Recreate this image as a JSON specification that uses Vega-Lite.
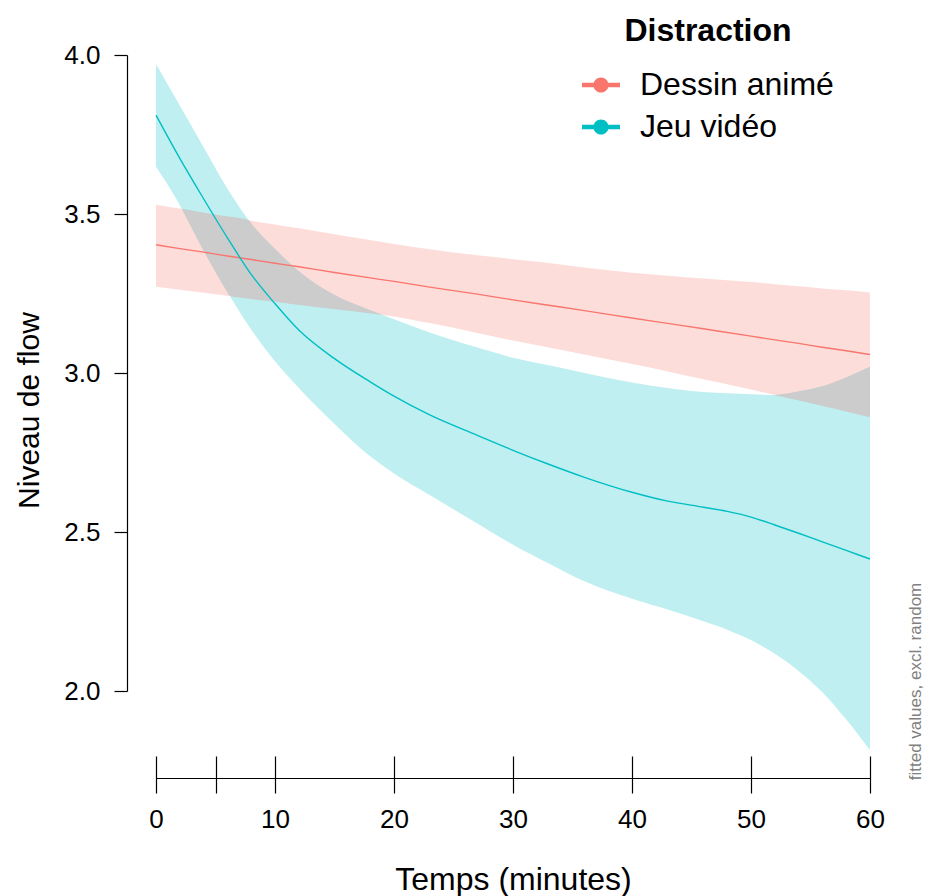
{
  "$schema": "https://vega.github.io/schema/vega-lite/v6.json",
  "width": 714,
  "height": 636,
  "autosize": {"type": "none"},
  "padding": {"left": 156, "top": 55, "right": 57, "bottom": 205},
  "background": "white",
  "config": {
    "view": {"stroke": null},
    "font": "Liberation Sans",
    "axis": {"grid": false, "labelColor": "black", "titleColor": "black", "tickColor": "black", "domainColor": "black", "titleFontWeight": "normal"}
  },
  "datasets": {
    "bands": [
      {"Distraction": "Dessin animé", "t": 0, "fit": 3.403, "lo": 3.271, "hi": 3.529},
      {"Distraction": "Dessin animé", "t": 2, "fit": 3.391, "lo": 3.262, "hi": 3.517},
      {"Distraction": "Dessin animé", "t": 4, "fit": 3.380, "lo": 3.252, "hi": 3.504},
      {"Distraction": "Dessin animé", "t": 6, "fit": 3.368, "lo": 3.243, "hi": 3.492},
      {"Distraction": "Dessin animé", "t": 8, "fit": 3.357, "lo": 3.233, "hi": 3.479},
      {"Distraction": "Dessin animé", "t": 10, "fit": 3.345, "lo": 3.224, "hi": 3.467},
      {"Distraction": "Dessin animé", "t": 12, "fit": 3.334, "lo": 3.215, "hi": 3.455},
      {"Distraction": "Dessin animé", "t": 15, "fit": 3.316, "lo": 3.201, "hi": 3.436},
      {"Distraction": "Dessin animé", "t": 18, "fit": 3.299, "lo": 3.188, "hi": 3.418},
      {"Distraction": "Dessin animé", "t": 20, "fit": 3.288, "lo": 3.178, "hi": 3.406},
      {"Distraction": "Dessin animé", "t": 23, "fit": 3.270, "lo": 3.157, "hi": 3.389},
      {"Distraction": "Dessin animé", "t": 27, "fit": 3.248, "lo": 3.126, "hi": 3.370},
      {"Distraction": "Dessin animé", "t": 30, "fit": 3.230, "lo": 3.102, "hi": 3.358},
      {"Distraction": "Dessin animé", "t": 33, "fit": 3.213, "lo": 3.080, "hi": 3.346},
      {"Distraction": "Dessin animé", "t": 36, "fit": 3.196, "lo": 3.058, "hi": 3.332},
      {"Distraction": "Dessin animé", "t": 40, "fit": 3.173, "lo": 3.028, "hi": 3.315},
      {"Distraction": "Dessin animé", "t": 43, "fit": 3.156, "lo": 3.005, "hi": 3.306},
      {"Distraction": "Dessin animé", "t": 46, "fit": 3.139, "lo": 2.980, "hi": 3.297},
      {"Distraction": "Dessin animé", "t": 50, "fit": 3.116, "lo": 2.948, "hi": 3.286},
      {"Distraction": "Dessin animé", "t": 52, "fit": 3.104, "lo": 2.931, "hi": 3.279},
      {"Distraction": "Dessin animé", "t": 54, "fit": 3.093, "lo": 2.914, "hi": 3.273},
      {"Distraction": "Dessin animé", "t": 56, "fit": 3.081, "lo": 2.897, "hi": 3.266},
      {"Distraction": "Dessin animé", "t": 58, "fit": 3.070, "lo": 2.879, "hi": 3.260},
      {"Distraction": "Dessin animé", "t": 60, "fit": 3.058, "lo": 2.862, "hi": 3.253},
      {"Distraction": "Jeu vidéo", "t": 0, "fit": 3.811, "lo": 3.649, "hi": 3.972},
      {"Distraction": "Jeu vidéo", "t": 2, "fit": 3.675, "lo": 3.528, "hi": 3.841},
      {"Distraction": "Jeu vidéo", "t": 4, "fit": 3.548, "lo": 3.385, "hi": 3.710},
      {"Distraction": "Jeu vidéo", "t": 6, "fit": 3.425, "lo": 3.255, "hi": 3.580},
      {"Distraction": "Jeu vidéo", "t": 8, "fit": 3.310, "lo": 3.137, "hi": 3.470},
      {"Distraction": "Jeu vidéo", "t": 10, "fit": 3.218, "lo": 3.037, "hi": 3.390},
      {"Distraction": "Jeu vidéo", "t": 12, "fit": 3.135, "lo": 2.953, "hi": 3.320},
      {"Distraction": "Jeu vidéo", "t": 15, "fit": 3.045, "lo": 2.840, "hi": 3.245},
      {"Distraction": "Jeu vidéo", "t": 18, "fit": 2.972, "lo": 2.738, "hi": 3.197},
      {"Distraction": "Jeu vidéo", "t": 20, "fit": 2.927, "lo": 2.684, "hi": 3.169},
      {"Distraction": "Jeu vidéo", "t": 23, "fit": 2.868, "lo": 2.616, "hi": 3.127},
      {"Distraction": "Jeu vidéo", "t": 27, "fit": 2.804, "lo": 2.527, "hi": 3.080},
      {"Distraction": "Jeu vidéo", "t": 30, "fit": 2.757, "lo": 2.460, "hi": 3.048},
      {"Distraction": "Jeu vidéo", "t": 33, "fit": 2.713, "lo": 2.401, "hi": 3.024},
      {"Distraction": "Jeu vidéo", "t": 36, "fit": 2.672, "lo": 2.345, "hi": 3.000},
      {"Distraction": "Jeu vidéo", "t": 40, "fit": 2.625, "lo": 2.290, "hi": 2.970},
      {"Distraction": "Jeu vidéo", "t": 43, "fit": 2.597, "lo": 2.256, "hi": 2.953},
      {"Distraction": "Jeu vidéo", "t": 46, "fit": 2.578, "lo": 2.219, "hi": 2.940},
      {"Distraction": "Jeu vidéo", "t": 48, "fit": 2.565, "lo": 2.193, "hi": 2.936},
      {"Distraction": "Jeu vidéo", "t": 50, "fit": 2.547, "lo": 2.160, "hi": 2.933},
      {"Distraction": "Jeu vidéo", "t": 52, "fit": 2.522, "lo": 2.117, "hi": 2.931},
      {"Distraction": "Jeu vidéo", "t": 54, "fit": 2.496, "lo": 2.063, "hi": 2.942},
      {"Distraction": "Jeu vidéo", "t": 56, "fit": 2.469, "lo": 1.996, "hi": 2.958},
      {"Distraction": "Jeu vidéo", "t": 58, "fit": 2.442, "lo": 1.910, "hi": 2.986},
      {"Distraction": "Jeu vidéo", "t": 60, "fit": 2.415, "lo": 1.814, "hi": 3.020}
    ],
    "overlap": [
      {"part": "gauche", "t": 2.2, "lo": 3.515, "hi": 3.515},
      {"part": "gauche", "t": 3, "lo": 3.456, "hi": 3.510},
      {"part": "gauche", "t": 4, "lo": 3.385, "hi": 3.504},
      {"part": "gauche", "t": 6, "lo": 3.255, "hi": 3.492},
      {"part": "gauche", "t": 6.2, "lo": 3.243, "hi": 3.491},
      {"part": "gauche", "t": 7.8, "lo": 3.234, "hi": 3.480},
      {"part": "gauche", "t": 8, "lo": 3.233, "hi": 3.470},
      {"part": "gauche", "t": 10, "lo": 3.224, "hi": 3.390},
      {"part": "gauche", "t": 12, "lo": 3.215, "hi": 3.320},
      {"part": "gauche", "t": 15, "lo": 3.201, "hi": 3.245},
      {"part": "gauche", "t": 18, "lo": 3.188, "hi": 3.197},
      {"part": "gauche", "t": 19, "lo": 3.183, "hi": 3.183},
      {"part": "droite", "t": 52, "lo": 2.931, "hi": 2.931},
      {"part": "droite", "t": 54, "lo": 2.914, "hi": 2.942},
      {"part": "droite", "t": 56, "lo": 2.897, "hi": 2.958},
      {"part": "droite", "t": 58, "lo": 2.879, "hi": 2.986},
      {"part": "droite", "t": 60, "lo": 2.862, "hi": 3.020}
    ]
  },
  "layer": [
    {
      "data": {"name": "bands"},
      "mark": {"type": "area", "interpolate": "monotone", "opacity": 0.25},
      "encoding": {
        "x": {
          "field": "t", "type": "quantitative",
          "scale": {"domain": [0, 60], "nice": false, "zero": false},
          "axis": {
            "orient": "bottom", "offset": 65, "domain": false,
            "values": [0, 5, 10, 20, 30, 40, 50, 60],
            "labelExpr": "datum.value == 5 ? '' : datum.label",
            "tickSize": 37, "tickWidth": 1.2, "labelFontSize": 26, "labelPadding": 13,
            "labelFlush": false, "labelOverlap": false,
            "title": "Temps (minutes)", "titleFontSize": 32, "titlePadding": 32
          }
        },
        "y": {
          "field": "lo", "type": "quantitative",
          "scale": {"domain": [2, 4], "nice": false, "zero": false},
          "axis": {
            "orient": "left", "offset": 29, "values": [2, 2.5, 3, 3.5, 4], "format": ".1f",
            "tickSize": 13, "tickWidth": 1.2, "domainWidth": 1.2, "labelFontSize": 26, "labelPadding": 14,
            "title": "Niveau de flow", "titleFontSize": 30, "titlePadding": 19, "titleY": 355
          }
        },
        "y2": {"field": "hi"},
        "color": {
          "field": "Distraction", "type": "nominal",
          "scale": {"domain": ["Dessin animé", "Jeu vidéo"], "range": ["#F8766D", "#00BFC4"]}
        }
      }
    },
    {
      "data": {"name": "overlap"},
      "mark": {"type": "area", "interpolate": "monotone", "color": "#CCCCCC"},
      "encoding": {
        "x": {"field": "t", "type": "quantitative", "axis": null},
        "y": {"field": "lo", "type": "quantitative", "axis": null},
        "y2": {"field": "hi"},
        "detail": {"field": "part"}
      }
    },
    {
      "data": {"name": "bands"},
      "mark": {"type": "line", "interpolate": "monotone", "strokeWidth": 1.4},
      "encoding": {
        "x": {
          "field": "t", "type": "quantitative",
          "axis": {"orient": "bottom", "offset": 87, "domain": true, "domainWidth": 1.2, "ticks": false, "labels": false, "title": null}
        },
        "y": {
          "field": "fit", "type": "quantitative",
          "axis": {
            "orient": "right", "domain": false, "ticks": false, "labels": false,
            "title": "fitted values, excl. random", "titleFontSize": 17, "titleColor": "#808080",
            "titleAngle": 270, "titleX": 45, "titleY": 626, "titleAlign": "center", "titleBaseline": "middle"
          }
        },
        "color": {
          "field": "Distraction", "type": "nominal",
          "legend": {
            "orient": "none", "legendX": 426, "legendY": -39, "padding": 0,
            "title": "Distraction", "titleFontSize": 32, "titleFontWeight": "bold", "titleColor": "black",
            "titleAnchor": "middle", "titlePadding": 18, "titleLimit": 0,
            "labelFontSize": 32, "labelColor": "black", "labelOffset": 20, "labelLimit": 0,
            "symbolType": "M-1,-0.12L1,-0.12L1,0.12L-1,0.12ZM0.4,0A0.4,0.4,0,1,1,-0.4,0A0.4,0.4,0,1,1,0.4,0Z",
            "symbolSize": 1444, "symbolStrokeWidth": 0, "rowPadding": 7,
            "encode": {"symbols": {"update": {"fill": {"scale": "color", "field": "value"}, "stroke": {"value": "transparent"}, "opacity": {"value": 1}}}}
          }
        }
      }
    }
  ],
  "resolve": {"axis": {"x": "independent", "y": "independent"}}
}
